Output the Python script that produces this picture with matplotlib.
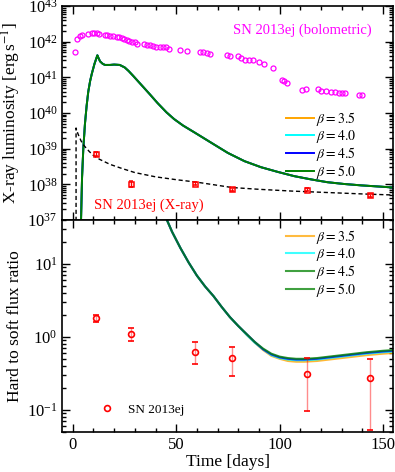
import numpy as np
import matplotlib
matplotlib.use("Agg")
import matplotlib.pyplot as plt
from matplotlib.lines import Line2D
from matplotlib.ticker import LogLocator, MultipleLocator, NullFormatter

plt.rcParams["font.family"] = "serif"
plt.rcParams["font.serif"] = ["Liberation Serif", "DejaVu Serif"]
plt.rcParams["mathtext.fontset"] = "stix"

# --- SN 2013ej bolometric light curve (log10 L) ---
bol_day = [1.1, 2.2, 3.5, 4.3, 7.5, 9.2, 10.4, 11.6, 12.7, 15.6, 16.7, 18.0, 19.6,
           21.2, 22.5, 23.7, 24.8, 26.1, 27.3, 28.8, 30.1, 31.2, 34.6, 35.9, 37.3,
           38.8, 40.4, 42.1, 43.7, 45.0, 46.6, 51.8, 55.0,
           61.5, 63.1, 64.7, 66.3, 74.4, 76.0, 79.7, 81.3, 83.2, 85.1, 87.2, 89.9,
           92.5, 96.9, 101.2, 102.2, 103.8, 110.6, 112.6, 118.6, 119.9, 122.6,
           124.7, 126.6, 128.6, 130.2, 131.8, 138.4, 139.8]
bol_logL = [41.72, 42.07, 42.17, 42.19, 42.21, 42.24, 42.25, 42.24, 42.22, 42.20,
            42.19, 42.17, 42.16, 42.14, 42.13, 42.11, 42.08, 42.05, 42.03, 42.00,
            41.98, 41.95, 41.95, 41.92, 41.90, 41.88, 41.86, 41.85, 41.86, 41.84,
            41.81, 41.78, 41.74,
            41.70, 41.70, 41.69, 41.67, 41.62, 41.61, 41.60, 41.54, 41.50, 41.48,
            41.48, 41.44, 41.37, 41.25, 40.93, 40.90, 40.83, 40.66, 40.67, 40.67,
            40.63, 40.62, 40.60, 40.58, 40.57, 40.57, 40.57, 40.50, 40.50]

# --- SN 2013ej X-ray luminosity (1e38 erg/s) ---
xr_day = [11.1, 28.2, 59.1, 77.1, 113.0, 143.9]
xr_lum = [7.2, 1.05, 1.05, 0.72, 0.71, 0.49]
xr_err = [0.8, 0.22, 0.10, 0.07, 0.08, 0.05]

# --- dashed model curve (log10 L) ---
dash_day = [1.6, 1.6, 2.0, 2.5, 3.0, 4.0, 5.0, 6.0, 8.0, 10.0, 13.0, 18.0, 24.0,
            30.0, 40.0, 50.0, 60.0, 77.0, 90.0, 106.0, 123.0, 140.0, 155.0]
dash_logL = [36.0, 39.58, 39.50, 39.42, 39.35, 39.22, 39.12, 39.05, 38.92, 38.81,
             38.70, 38.56, 38.44, 38.33, 38.21, 38.13, 38.06, 37.91, 37.86, 37.81,
             37.77, 37.73, 37.70]

# --- model X-ray light curve (log10 L), all beta nearly identical ---
mod_day = [3.8, 4.0, 4.5, 5.1, 5.9, 6.7, 7.5, 8.4, 9.2, 10.5, 11.9, 12.4, 13.2,
           14.5, 15.6, 18.0, 20.0, 22.7, 25.1, 27.0, 29.1, 33.0, 37.2, 41.0, 45.3,
           49.0, 53.3, 59.0, 66.0, 75.0, 83.0, 91.0, 99.0, 107.0, 115.0, 123.0,
           131.0, 139.5, 150.0, 155.0]
mod_logL = [36.0, 37.0, 38.2, 39.0, 39.7, 40.2, 40.6, 40.9, 41.1, 41.38, 41.62,
            41.55, 41.45, 41.38, 41.35, 41.35, 41.36, 41.35, 41.28, 41.18, 41.05,
            40.80, 40.53, 40.28, 40.02, 39.83, 39.65, 39.45, 39.20, 38.88, 38.65,
            38.48, 38.35, 38.23, 38.14, 38.06, 38.01, 37.97, 37.93, 37.91]

# --- hardness ratio model curves (log10 ratio) ---
hr_day = [44, 48, 52, 56, 60, 64, 68, 72, 76, 80, 84, 88, 92, 96, 100, 104, 108,
          112, 118, 124, 130, 136, 142, 150, 155]
hr_early = [1.70, 1.44, 1.22, 1.02, 0.84, 0.69, 0.56, 0.41, 0.27, 0.15]
hr_b35 = hr_early + [0.03, -0.08, -0.18, -0.26, -0.30, -0.33, -0.34, -0.34, -0.33,
                     -0.31, -0.29, -0.27, -0.25, -0.23, -0.22]
hr_b40 = hr_early + [0.03, -0.08, -0.17, -0.25, -0.29, -0.31, -0.32, -0.32, -0.31,
                     -0.29, -0.27, -0.25, -0.23, -0.21, -0.20]
hr_b45 = hr_early + [0.04, -0.07, -0.17, -0.24, -0.28, -0.30, -0.31, -0.31, -0.30,
                     -0.28, -0.26, -0.24, -0.22, -0.20, -0.19]
hr_b50 = hr_early + [0.04, -0.07, -0.16, -0.23, -0.27, -0.29, -0.30, -0.30, -0.29,
                     -0.27, -0.25, -0.23, -0.21, -0.19, -0.18]

# --- observed hardness ratio ---
hr_obs_day = [11.1, 28.2, 59.1, 77.1, 113.0, 143.9]
hr_obs = [1.80, 1.10, 0.63, 0.51, 0.31, 0.27]
hr_obs_lo = [1.61, 0.89, 0.42, 0.29, 0.096, 0.053]
hr_obs_hi = [1.98, 1.34, 0.85, 0.72, 0.51, 0.50]

betas = ["3.5", "4.0", "4.5", "5.0"]
colors = ["orange", "cyan", "blue", "green"]

fig = plt.figure(figsize=(3.95, 4.72), dpi=100)
ax1 = fig.add_axes([0.158, 0.534, 0.838, 0.453])
ax2 = fig.add_axes([0.158, 0.085, 0.838, 0.449])

# top panel
for b, c in zip(betas, colors):
    ax1.plot(mod_day, 10 ** np.array(mod_logL), color=c, lw=1.4,
             label=r"$\beta = %s$" % b)
ax1.plot(dash_day, 10 ** np.array(dash_logL), "k--", lw=1.0, dashes=(3, 2))
ax1.plot(bol_day, 10 ** np.array(bol_logL), "o", mfc="none", mec="magenta",
         ms=3.6, mew=0.9)
ax1.errorbar(xr_day, np.array(xr_lum) * 1e38, yerr=np.array(xr_err) * 1e38,
             fmt="s", mfc="none", mec="red", ecolor="red", ms=3.6, mew=1.1,
             capsize=1.5, elinewidth=1)
ax1.text(0.935, 0.885, "SN 2013ej (bolometric)", color="magenta", fontsize=10.5,
         ha="right", va="center", transform=ax1.transAxes)
ax1.text(0.095, 0.07, "SN 2013ej (X-ray)", color="red", fontsize=10.5,
         ha="left", va="center", transform=ax1.transAxes)
ax1.set_yscale("log")
ax1.set_ylim(1e37, 1e43)
ax1.set_ylabel(r"X-ray luminosity [erg$\,$s$^{-1}$]", fontsize=12.5, labelpad=3)
ax1.legend(loc="upper left", bbox_to_anchor=(0.66, 0.54), frameon=False,
           fontsize=10, handlelength=2.0, handletextpad=0.1, labelspacing=0.0,
           borderaxespad=0)
ax1.tick_params(labelbottom=False)

# bottom panel
hr_curves = [hr_b35, hr_b40, hr_b45, hr_b50]
for hr, c in zip(hr_curves, colors):
    ax2.plot(hr_day, 10 ** np.array(hr), color=c, lw=1.5, alpha=0.8)
yerr = [np.array(hr_obs) - np.array(hr_obs_lo), np.array(hr_obs_hi) - np.array(hr_obs)]
eb = ax2.errorbar(hr_obs_day, hr_obs, yerr=yerr, fmt="o", mfc="none", mec="red",
                  ecolor="red", ms=4.2, mew=1.2, capsize=2.5, elinewidth=1)
eb[2][0].set_alpha(0.45)
ax2.set_yscale("log")
ax2.set_ylim(0.05, 40)
ax2.set_ylabel("Hard to soft flux ratio", fontsize=12.5, labelpad=3)
ax2.set_xlabel("Time [days]", fontsize=12.5, labelpad=1)
leg_colors = ["orange", "cyan", "green", "green"]
handles = [Line2D([], [], color=c, lw=1.5, alpha=0.75) for c in leg_colors]
leg1 = ax2.legend(handles, [r"$\beta = %s$" % b for b in betas], loc="upper left",
                  bbox_to_anchor=(0.66, 0.99), frameon=False, fontsize=10,
                  handlelength=2.0, handletextpad=0.1, labelspacing=0.0,
                  borderaxespad=0)
ax2.add_artist(leg1)
obs_h = Line2D([], [], ls="none", marker="o", mfc="none", mec="red", ms=4.2, mew=1.2)
ax2.legend([obs_h], ["SN 2013ej"], loc="lower left", bbox_to_anchor=(0.08, 0.05),
           frameon=False, fontsize=9.5, handletextpad=0.6, borderaxespad=0)

for ax in (ax1, ax2):
    ax.set_xlim(-5, 155)
    ax.xaxis.set_major_locator(MultipleLocator(50))
    ax.xaxis.set_minor_locator(MultipleLocator(10))
    ax.yaxis.set_major_locator(LogLocator(base=10, numticks=20))
    ax.yaxis.set_minor_locator(LogLocator(base=10, subs=np.arange(2, 10), numticks=20))
    ax.yaxis.set_minor_formatter(NullFormatter())
    ax.tick_params(which="both", direction="in", top=True, right=True,
                   labelsize=12, width=1.0)
    ax.tick_params(which="major", length=6)
    ax.tick_params(which="minor", length=3)
    for s in ax.spines.values():
        s.set_linewidth(1.2)

fig.savefig("out.png", dpi=100)
